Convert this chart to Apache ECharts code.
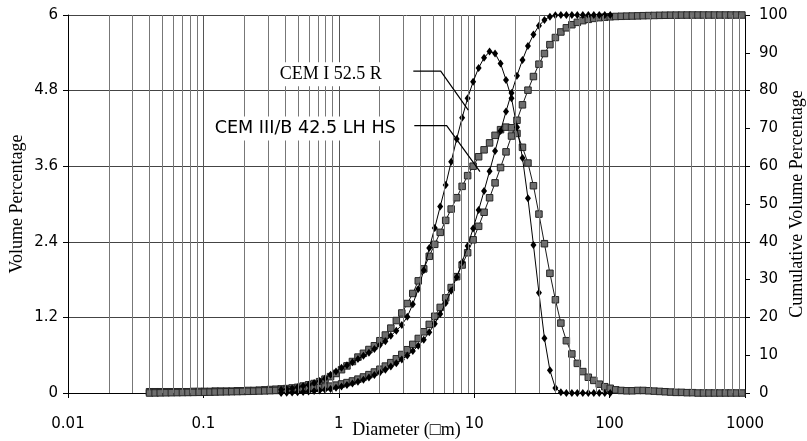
<!DOCTYPE html>
<html><head><meta charset="utf-8">
<script src="https://cdn.jsdelivr.net/npm/echarts@6/dist/echarts.min.js"></script>
<style>html,body{margin:0;padding:0;background:#fff}#c{width:807px;height:441px}</style>
</head><body><div id="c"></div>
<script>
// particle size channels (µm)
const diameters = [
0.040,0.044,0.048,0.053,0.058,0.064,0.070,0.077,0.084,0.093,
0.102,0.112,0.122,0.134,0.148,0.162,0.178,0.195,0.214,0.235,
0.258,0.284,0.311,0.342,0.375,0.412,0.452,0.496,0.545,0.598,
0.657,0.721,0.791,0.869,0.954,1.047,1.149,1.261,1.385,1.520,
1.669,1.832,2.011,2.207,2.423,2.660,2.920,3.205,3.519,3.863,
4.240,4.655,5.110,5.610,6.158,6.760,7.421,8.147,8.943,9.818,
10.78,11.83,12.99,14.26,15.65,17.18,18.86,20.70,22.73,24.95,
27.39,30.07,33.01,36.24,39.78,43.67,47.94,52.62,57.77,63.41,
69.61,76.42,83.89,92.09,101.1,111.0,121.8,133.7,146.8,161.2,
176.9,194.2,213.2,234.1,256.9,282.1,309.6,339.9,373.1,409.6,
449.7,493.6,541.9,594.9,653.0,716.9,786.9,863.9,948.3];

// CEM I 52.5 R – volume %
const cemIVol = [
null,null,null,null,null,null,null,null,null,null,
null,null,null,null,null,null,null,null,null,null,
null,null,null,null,0.05,0.06,0.07,0.09,0.11,0.13,
0.16,0.19,0.23,0.29,0.34,0.40,0.44,0.49,0.54,0.59,
0.64,0.70,0.76,0.82,0.91,0.99,1.08,1.21,1.41,1.65,
1.95,2.30,2.62,2.96,3.30,3.67,4.03,4.37,4.68,4.94,
5.16,5.32,5.42,5.39,5.23,4.97,4.68,4.22,3.73,3.09,
2.35,1.59,0.87,0.36,0.08,0.01,0,0,0,0,
0,0,0,0,0,null,null,null,null,null,
null,null,null,null,null,null,null,null,null,null,
null,null,null,null,null,null,null,null,null];

// CEM III/B 42.5 LH HS – volume %
const cemIIIVol = [
0.02,0.02,0.02,0.02,0.02,0.02,0.02,0.02,0.025,0.025,
0.025,0.025,0.03,0.03,0.03,0.03,0.035,0.035,0.04,0.04,
0.045,0.05,0.055,0.06,0.065,0.07,0.08,0.09,0.11,0.13,
0.15,0.18,0.22,0.26,0.31,0.37,0.43,0.50,0.57,0.63,
0.69,0.75,0.83,0.92,1.03,1.15,1.27,1.42,1.58,1.78,
1.97,2.17,2.36,2.55,2.74,2.92,3.10,3.28,3.45,3.60,
3.75,3.86,3.97,4.09,4.18,4.22,4.21,4.12,3.90,3.65,
3.29,2.84,2.37,1.90,1.48,1.11,0.83,0.62,0.47,0.34,
0.25,0.20,0.14,0.10,0.075,0.05,0.04,0.035,0.035,0.04,
0.04,0.035,0.03,0.025,0.02,0.015,0.01,0.01,0.005,0.005,
0,0,0,0,0,0,0,0,0];

// CEM I 52.5 R – cumulative volume %
const cemICum = [
null,null,null,null,null,null,null,null,null,null,
null,null,null,null,null,null,null,null,null,null,
null,null,null,null,0,0.05,0.11,0.18,0.27,0.37,
0.50,0.66,0.85,1.07,1.36,1.69,2.09,2.52,3.00,3.53,
4.11,4.74,5.43,6.18,6.99,7.88,8.85,9.92,11.11,12.50,
14.12,16.04,18.30,20.88,23.79,27.04,30.65,34.61,38.91,43.52,
48.38,53.45,58.69,64.02,69.32,74.47,79.36,83.96,88.11,91.78,
94.82,97.14,98.70,99.56,99.91,99.99,100,100,100,100,
100,100,100,100,100,null,null,null,null,null,
null,null,null,null,null,null,null,null,null,null,
null,null,null,null,null,null,null,null,null];

// CEM III/B 42.5 LH HS – cumulative volume %
const cemIIICum = [
0,0.02,0.04,0.06,0.08,0.10,0.12,0.14,0.16,0.18,
0.21,0.23,0.26,0.29,0.32,0.35,0.38,0.41,0.45,0.49,
0.53,0.57,0.62,0.67,0.73,0.80,0.87,0.95,1.04,1.15,
1.27,1.42,1.60,1.82,2.08,2.39,2.75,3.18,3.67,4.24,
4.86,5.55,6.29,7.12,8.03,9.05,10.19,11.45,12.86,14.43,
16.19,18.15,20.30,22.64,25.17,27.89,30.78,33.86,37.11,40.53,
44.10,47.82,51.65,55.59,59.64,63.79,67.98,72.15,76.24,80.11,
83.72,86.99,89.80,92.16,94.04,95.51,96.61,97.43,98.05,98.51,
98.85,99.10,99.30,99.43,99.53,99.61,99.66,99.70,99.73,99.77,
99.81,99.85,99.88,99.91,99.94,99.96,99.97,99.98,99.99,100,
100,100,100,100,100,100,100,100,100];

// minor vertical grid positions (2..9 of every decade)
const minorGrid = [
0.02,0.03,0.04,0.05,0.06,0.07,0.08,0.09,
0.2,0.3,0.4,0.5,0.6,0.7,0.8,0.9,
2,3,4,5,6,7,8,9,
20,30,40,50,60,70,80,90,
200,300,400,500,600,700,800,900];

const seriesNames = ['CEM I 52.5 R', 'CEM III/B 42.5 LH HS'];

function pairs(ys){ const out=[]; ys.forEach((v,i)=>{ if(v!==null) out.push([diameters[i], v]); }); return out; }

const chart = echarts.init(document.getElementById('c'), null, {renderer:'canvas'});
const sans = 'DejaVu Sans';
const serif = 'Liberation Serif';

const diamondStyle = {
  type:'line', symbol:'diamond', symbolSize:[6,8], showAllSymbol:true,
  lineStyle:{color:'#000', width:1}, itemStyle:{color:'#000'}, z:4
};
const squareStyle = {
  type:'line', symbol:'rect', symbolSize:6.5, showAllSymbol:true,
  lineStyle:{color:'#1a1a1a', width:1}, itemStyle:{color:'#6e6e6e', borderColor:'#262626', borderWidth:1}, z:3
};

chart.setOption({
  animation:false,
  backgroundColor:'#fff',
  grid:{left:68, right:62, top:15, bottom:48, containLabel:false, outerBoundsMode:'none'},
  xAxis:{
    type:'log', logBase:10, min:0.01, max:1000, splitNumber:5,
    name:'Diameter (\u25A1m)', nameLocation:'middle', nameGap:28, nameMoveOverlap:false,
    nameTextStyle:{fontFamily:serif, fontSize:18, color:'#000'},
    axisLine:{show:true, lineStyle:{color:'#000', width:1}},
    axisTick:{show:true, length:5, lineStyle:{color:'#000'}},
    axisLabel:{fontFamily:sans, fontSize:15, color:'#000', margin:24,
      formatter:v=>String(parseFloat(Number(v).toPrecision(6)))},
    splitLine:{show:true, lineStyle:{color:'#555', width:1}},
    minorTick:{show:false}
  },
  yAxis:[{
    type:'value', min:0, max:6, interval:1.2, position:'left',
    name:'Volume Percentage', nameLocation:'middle', nameGap:42, nameMoveOverlap:false,
    nameTextStyle:{fontFamily:serif, fontSize:18, color:'#000'},
    axisLine:{show:true, lineStyle:{color:'#000', width:1}},
    axisTick:{show:true, length:5, lineStyle:{color:'#000'}},
    axisLabel:{fontFamily:sans, fontSize:15, color:'#000', margin:10,
      formatter:v=>String(parseFloat(v.toFixed(1)))},
    splitLine:{show:true, lineStyle:{color:'#444', width:1}}
  },{
    type:'value', min:0, max:100, interval:10, position:'right',
    name:'Cumulative Volume Percentage', nameLocation:'middle', nameGap:43, nameRotate:90, nameMoveOverlap:false,
    nameTextStyle:{fontFamily:serif, fontSize:18, color:'#000'},
    axisLine:{show:true, lineStyle:{color:'#000', width:1}},
    axisTick:{show:true, length:5, lineStyle:{color:'#000'}},
    axisLabel:{fontFamily:sans, fontSize:15, color:'#000', margin:14},
    splitLine:{show:false}
  }],
  series:[
    {type:'line', data:[], xAxisIndex:0, yAxisIndex:0, silent:true, z:1,
     markLine:{silent:true, symbol:['none','none'], label:{show:false}, animation:false,
       lineStyle:{color:'#777', width:1, type:'solid'},
       data:minorGrid.map(v=>({xAxis:v}))}},
    Object.assign({name:seriesNames[1]+' vol', yAxisIndex:0, data:pairs(cemIIIVol)}, squareStyle),
    Object.assign({name:seriesNames[1]+' cum', yAxisIndex:1, data:pairs(cemIIICum)}, squareStyle),
    Object.assign({name:seriesNames[0]+' vol', yAxisIndex:0, data:pairs(cemIVol)}, diamondStyle),
    Object.assign({name:seriesNames[0]+' cum', yAxisIndex:1, data:pairs(cemICum)}, diamondStyle)
  ]
});

// annotations anchored in data space (diameter, volume %)
const annotations = [
  {text:seriesNames[0], font:serif, textAt:[0.348, 5.06], leader:[[3.55,5.11],[5.66,5.11],[9.04,4.49]]},
  {text:seriesNames[1], font:sans, textAt:[0.1151, 4.20], leader:[[3.61,4.243],[6.26,4.243],[11.03,3.513]]}
];
const toPx = p => chart.convertToPixel({xAxisIndex:0, yAxisIndex:0}, p);
const g = [];
annotations.forEach(a=>{
  const tp = toPx(a.textAt);
  g.push({type:'text', x:tp[0], y:tp[1], z:10,
    style:{text:a.text, font:(a.font===sans?'17.6px ':'18px ')+'"'+a.font+'"', fill:'#000',
      textAlign:'left', textVerticalAlign:'middle', backgroundColor:'#fff', padding:[3,3,3,3]}});
  g.push({type:'polyline', z:10, shape:{points:a.leader.map(toPx)}, style:{stroke:'#000', lineWidth:1.2, fill:null}});
});
chart.setOption({graphic:g});
</script></body></html>
